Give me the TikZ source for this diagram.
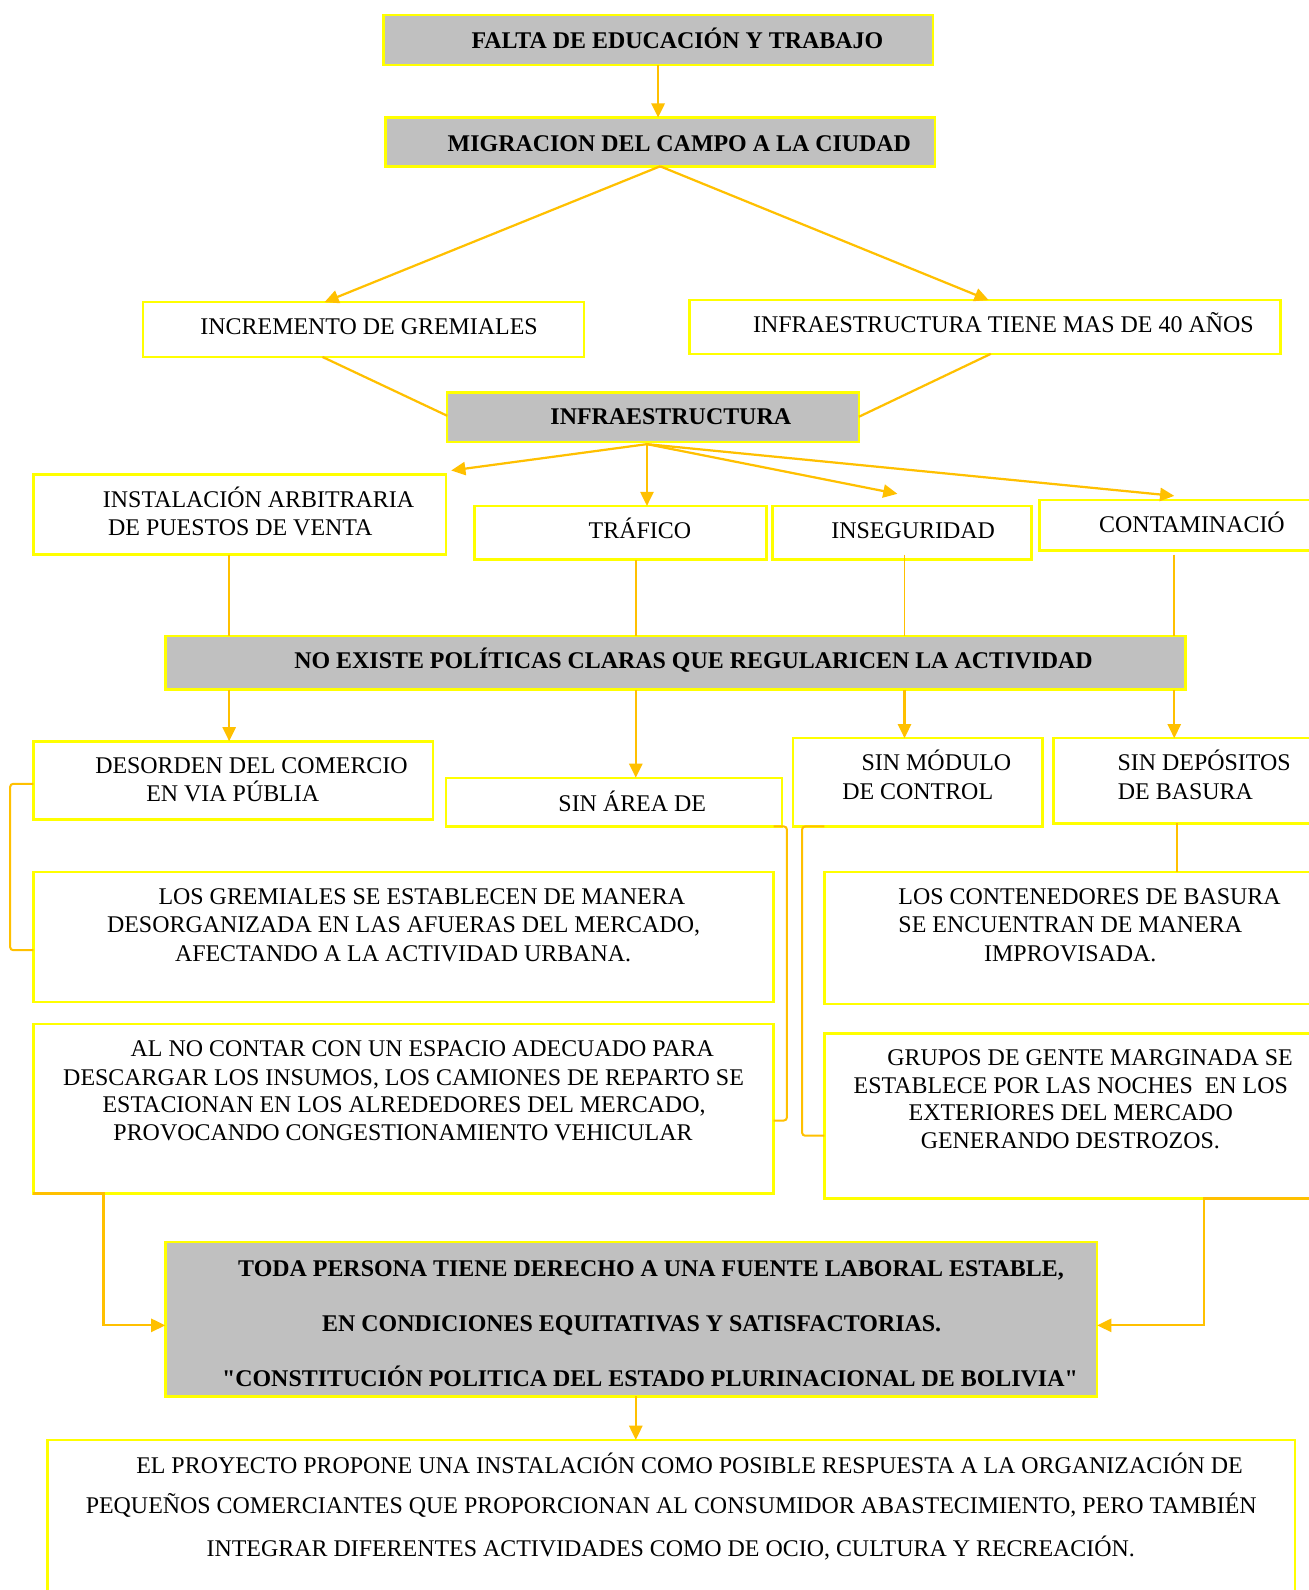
\documentclass[tikz,border=0pt]{standalone}
\usepackage{fontspec}
\setmainfont{Liberation Serif}
\usetikzlibrary{calc,arrows.meta}
\definecolor{ybord}{HTML}{FFFF00}
\definecolor{conn}{HTML}{FFC000}
\definecolor{gfill}{HTML}{C0C0C0}
\newcommand{\sq}{{\addfontfeature{Ligatures=TeXOff}"}}
\begin{document}
\begin{tikzpicture}[x=1pt,y=-1pt,
  box/.style={draw=ybord,line width=2.5pt,fill=white,inner sep=0pt,outer sep=0pt,anchor=north west},
  gbox/.style={box,fill=gfill},
  txt/.style={anchor=base,inner sep=0pt,font=\fontsize{23.6}{28}\selectfont},
  btxt/.style={txt,font=\fontsize{23.6}{28}\selectfont\bfseries},
  con/.style={draw=conn,line width=2.2pt},
  vcon/.style={con,line width=1.8pt},
  arr/.style={con,-{Triangle[length=14pt,width=13pt]}},
  brk/.style={con,line width=2pt,rounded corners=3pt}]
\useasboundingbox (0,0) rectangle (1290,1568);
\fill[white] (0,0) rectangle (1290,1568);
% boxes
\node[gbox,minimum width=542pt,minimum height=49pt] (falta) at (378,15) {};
\node[gbox,minimum width=542pt,minimum height=48pt] (migr) at (380,116) {};
\node[box,minimum width=435pt,minimum height=54pt] (incr) at (141,298) {};
\node[box,minimum width=583pt,minimum height=53pt] (infa) at (680,296) {};
\node[gbox,minimum width=406pt,minimum height=49pt] (infra) at (441,387) {};
\node[box,minimum width=407pt,minimum height=79pt] (inst) at (33,468) {};
\node[box,minimum width=288pt,minimum height=53pt] (traf) at (468,499) {};
\node[box,minimum width=255pt,minimum height=53pt] (inseg) at (762,499) {};
\node[box,minimum width=285pt,minimum height=50pt] (cont) at (1025,493) {};
\node[gbox,minimum width=1006pt,minimum height=53pt] (noex) at (163,627) {};
\node[box,minimum width=394pt,minimum height=77pt] (deso) at (33,731) {};
\node[box,minimum width=331pt,minimum height=48pt] (area) at (440,767) {};
\node[box,minimum width=246pt,minimum height=87pt] (modu) at (782,728) {};
\node[box,minimum width=271pt,minimum height=84pt] (depo) at (1039,728) {};
\node[box,minimum width=730pt,minimum height=128pt] (grem) at (33,860) {};
\node[box,minimum width=497pt,minimum height=130pt] (conte) at (813,860) {};
\node[box,minimum width=730pt,minimum height=167pt] (alno) at (33,1010) {};
\node[box,minimum width=497pt,minimum height=163pt] (grup) at (813,1019) {};
\node[gbox,minimum width=919pt,minimum height=152pt] (toda) at (163,1225) {};
\node[box,minimum width=1230pt,minimum height=170pt] (proy) at (47,1420) {};
% texts
\node[btxt] (t1) at (668,48) {FALTA DE EDUCACIÓN Y TRABAJO};
\node[btxt] (t2) at (670,149) {MIGRACION DEL CAMPO A LA CIUDAD};
\node[txt] (t3) at (364,330) {INCREMENTO DE GREMIALES};
\node[txt] (t4) at (989.5,328) {INFRAESTRUCTURA TIENE MAS DE 40 AÑOS};
\node[btxt] (t5) at (661.5,419) {INFRAESTRUCTURA};
\node[txt] (t6a) at (255,500) {INSTALACIÓN ARBITRARIA};
\node[txt] (t6b) at (237,528) {DE PUESTOS DE VENTA};
\node[txt] (t7) at (631,531) {TRÁFICO};
\node[txt] (t8) at (900.5,531) {INSEGURIDAD};
\node[txt] (t9) at (1175.5,525) {CONTAMINACIÓ};
\node[btxt] (t10) at (684,659) {NO EXISTE POLÍTICAS CLARAS QUE REGULARICEN LA ACTIVIDAD};
\node[txt] (t11a) at (248,763) {DESORDEN DEL COMERCIO};
\node[txt] (t11b) at (229.5,790) {EN VIA PÚBLIA};
\node[txt] (t12) at (623.5,800) {SIN ÁREA DE};
\node[txt] (t13a) at (923.5,760) {SIN MÓDULO};
\node[txt] (t13b) at (905,788) {DE CONTROL};
\node[txt] (t14a) at (1187.5,760) {SIN DEPÓSITOS};
\node[txt] (t14b) at (1169,788) {DE BASURA};
\node[txt] (t15a) at (416,892) {LOS GREMIALES SE ESTABLECEN DE MANERA};
\node[txt] (t15b) at (398,920) {DESORGANIZADA EN LAS AFUERAS DEL MERCADO,};
\node[txt] (t15c) at (397.5,948) {AFECTANDO A LA ACTIVIDAD URBANA.};
\node[txt] (t16a) at (1074.5,892) {LOS CONTENEDORES DE BASURA};
\node[txt] (t16b) at (1055.5,920) {SE ENCUENTRAN DE MANERA};
\node[txt] (t16c) at (1055.5,948) {IMPROVISADA.};
\node[txt] (t17a) at (416.5,1042) {AL NO CONTAR CON UN ESPACIO ADECUADO PARA};
\node[txt] (t17b) at (398,1070) {DESCARGAR LOS INSUMOS, LOS CAMIONES DE REPARTO SE};
\node[txt] (t17c) at (398.5,1097) {ESTACIONAN EN LOS ALREDEDORES DEL MERCADO,};
\node[txt] (t17d) at (397.5,1125) {PROVOCANDO CONGESTIONAMIENTO VEHICULAR};
\node[txt] (t18a) at (1075,1051) {GRUPOS DE GENTE MARGINADA SE};
\node[txt] (t18b) at (1056,1078) {ESTABLECE POR LAS NOCHES\ \ EN LOS};
\node[txt] (t18c) at (1056,1105) {EXTERIORES DEL MERCADO};
\node[txt] (t18d) at (1055.5,1133) {GENERANDO DESTROZOS.};
\node[btxt] (t19a) at (642,1259) {TODA PERSONA TIENE DERECHO A UNA FUENTE LABORAL ESTABLE,};
\node[btxt] (t19b) at (623,1313) {EN CONDICIONES EQUITATIVAS Y SATISFACTORIAS.};
\node[btxt] (t19c) at (641,1367) {\sq CONSTITUCIÓN POLITICA DEL ESTADO PLURINACIONAL DE BOLIVIA\sq};
\node[txt] (t20a) at (680,1453) {EL PROYECTO PROPONE UNA INSTALACIÓN COMO POSIBLE RESPUESTA A LA ORGANIZACIÓN DE};
\node[txt] (t20b) at (662,1493) {PEQUEÑOS COMERCIANTES QUE PROPORCIONAN AL CONSUMIDOR ABASTECIMIENTO, PERO TAMBIÉN};
\node[txt] (t20c) at (661.5,1535) {INTEGRAR DIFERENTES ACTIVIDADES COMO DE OCIO, CULTURA Y RECREACIÓN.};
% connector points
\coordinate (mb) at (migr.south);
\coordinate (ib) at ($(infra.south west)+(197,2)$);
\coordinate (v1) at ($(inst.south west)+(193,0)$);
\coordinate (v2) at ($(traf.south west)+(159,0)$);
\coordinate (v3) at ($(inseg.south west)+(130,-5)$);
\coordinate (v4) at ($(cont.south west)+(133,4)$);
\coordinate (d1) at ($(noex.south west)+(63,0)$);
\coordinate (d2) at ($(noex.south west)+(464,0)$);
\coordinate (d3) at ($(noex.south west)+(729,0)$);
\coordinate (d4) at ($(noex.south west)+(995,0)$);
\coordinate (b1) at ($(deso.north west)+(0,42)$);
\coordinate (b1e) at ($(grem.north west)+(0,77)$);
\coordinate (b2) at ($(area.south east)+(-8,0)$);
\coordinate (b2e) at ($(alno.north east)+(0,95)$);
\coordinate (b3) at ($(modu.south west)+(31,0)$);
\coordinate (b3e) at ($(grup.north west)+(0,101)$);
\coordinate (dp) at ($(depo.south west)+(122,0)$);
\coordinate (lt) at ($(toda.north west)+(0,82)$);
\coordinate (rt) at ($(toda.north east)+(0,82)$);
\coordinate (gk) at ($(grup.south west)+(374,0)$);
\coordinate (tb) at ($(toda.south west)+(464,0)$);
% connectors
\draw[arr] (falta.south) -- (falta.south |- migr.north);
\draw[arr] (mb) -- ($(incr.north west)+(179,0)$);
\draw[arr] (mb) -- ($(infa.north west)+(295,0)$);
\draw[con] ($(incr.south west)+(177,0)$) -- ($(infra.north west)+(0,23)$);
\draw[con] ($(infa.south west)+(297,0)$) -- ($(infra.north east)+(0,24)$);
\draw[arr] (ib) -- ($(inst.north east)+(5,-4)$);
\draw[arr] (ib) -- ($(traf.north west)+(170,0)$);
\draw[arr] (ib) -- ($(inseg.north west)+(123,-12)$);
\draw[arr] (ib) -- ($(cont.north west)+(133,-4)$);
\draw[vcon] (v1) -- (v1 |- noex.north);
\draw[vcon] (v2) -- (v2 |- noex.north);
\draw[vcon] (v3) -- (v3 |- noex.north);
\draw[vcon] (v4) -- (v4 |- noex.north);
\draw[arr] (d1) -- (d1 |- deso.north);
\draw[arr] (d2) -- (d2 |- area.north);
\draw[arr] (d3) -- (d3 |- modu.north);
\draw[arr] (d4) -- (d4 |- depo.north);
\draw[brk] (b1) -- ++(-23,0) |- (b1e);
\draw[brk] (b2) -- ++(13,0) |- (b2e);
\draw[brk] (b3) -- ++(-22,0) |- (b3e);
\draw[vcon] (dp) -- (dp |- conte.north);
\draw[arr] (alno.south west) -- ++(69,0) |- (lt);
\draw[arr] (grup.south east) -- (gk) |- (rt);
\draw[arr] (tb) -- (tb |- proy.north);
\end{tikzpicture}
\end{document}
